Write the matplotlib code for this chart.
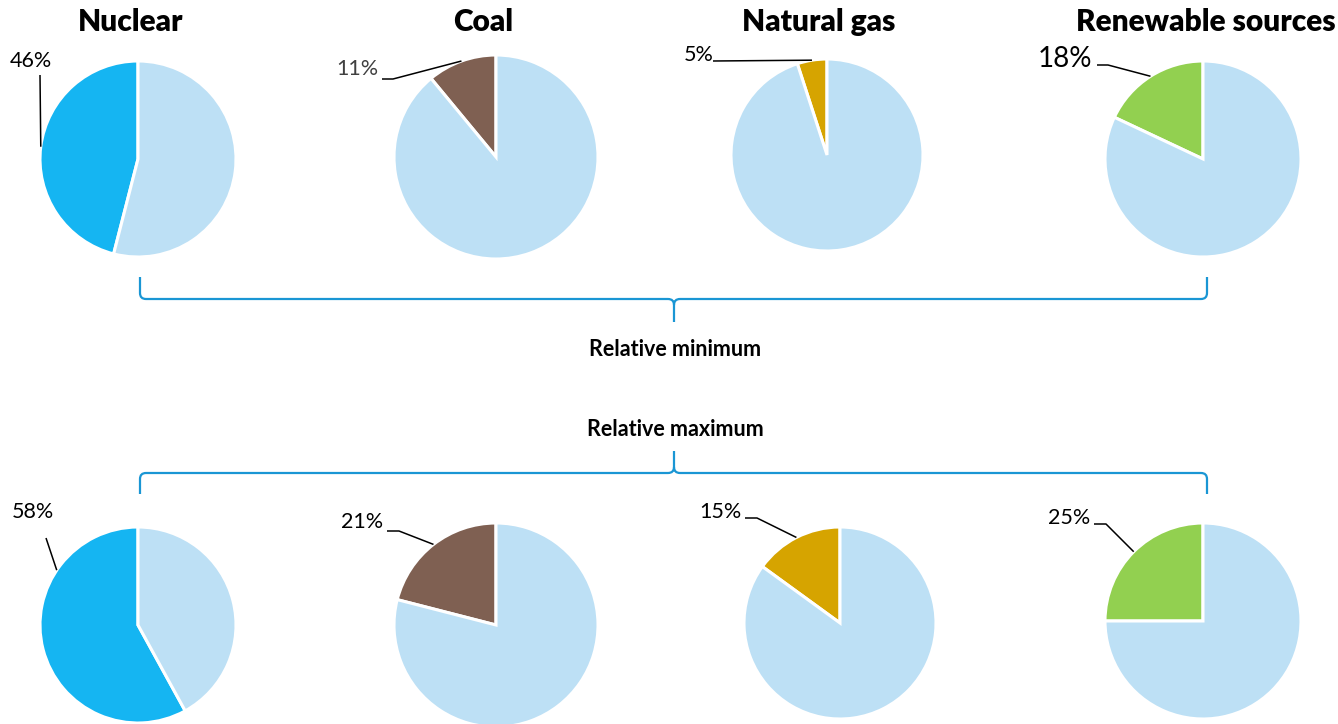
import numpy as np
import matplotlib
matplotlib.use("Agg")
import matplotlib.pyplot as plt
from matplotlib.path import Path
from matplotlib.patches import PathPatch

W, H = 1338, 724

sources = ["Nuclear", "Coal", "Natural gas", "Renewable sources"]
share_min = [46, 11, 5, 18]
share_max = [58, 21, 15, 25]
source_colors = ["#15B5F2", "#7F6052", "#D6A400", "#92D050"]
rest_color = "#BDE0F5"
brace_color = "#1A96D4"

# layout in pixels measured from the top-left corner
pie_x_min = [138, 496, 827, 1203]
pie_y_min = [159, 157, 155, 159]
pie_r_min = [98, 102, 96, 98]
pie_x_max = [138, 496, 840, 1203]
pie_y_max = [625, 625, 623, 621]
pie_r_max = [98, 102, 96, 98]
title_x = [131, 483, 819, 1206]
title_y = 22

# label text position, leader start points, optional anchor angle
labels_min = [
    dict(xy=(31, 61), pts=[(40, 75)], size=15.5, color="#000000"),
    dict(xy=(357, 69), pts=[(382, 79), (393, 79)], size=15.5, color="#404040"),
    dict(xy=(699, 55), pts=[(713, 61)], size=15.5, color="#000000"),
    dict(xy=(1065, 59), pts=[(1097, 65), (1108, 65)], size=20, color="#000000"),
]
labels_max = [
    dict(xy=(33, 512), pts=[(46, 538)], size=15.5, color="#000000", angle=146),
    dict(xy=(362, 522), pts=[(387, 531), (399, 531)], size=15.5, color="#000000"),
    dict(xy=(720, 512), pts=[(745, 518), (757, 518)], size=15.5, color="#000000"),
    dict(xy=(1069, 518), pts=[(1094, 524), (1106, 524)], size=15.5, color="#000000"),
]

plt.rcParams["font.family"] = ["Lato", "DejaVu Sans"]

fig = plt.figure(figsize=(W / 100, H / 100), dpi=100)
ax = fig.add_axes([0, 0, 1, 1])


def draw_row(shares, xs, ys, rs, labels):
    for share, color, cx, cy, r, lab in zip(shares, source_colors, xs, ys, rs, labels):
        ax.pie([share, 100 - share], colors=[color, rest_color], startangle=90,
               counterclock=True, center=(cx, H - cy), radius=r, frame=True,
               wedgeprops=dict(edgecolor="white", linewidth=2.2))
        ang = np.radians(lab.get("angle", 90 + share * 1.8))
        anchor = (cx + r * np.cos(ang), H - cy + r * np.sin(ang))
        line = [(x, H - y) for x, y in lab["pts"]] + [anchor]
        ax.plot([p[0] for p in line], [p[1] for p in line], color="black", lw=1.1,
                solid_capstyle="butt")
        ax.text(lab["xy"][0], H - lab["xy"][1], f"{share}%", ha="center", va="center",
                fontsize=lab["size"], color=lab["color"])


def brace(x0, x1, xc, y_end, y_bar, y_tip):
    # curly brace drawn in pixel coordinates; y values are top-down
    s = np.sign(y_tip - y_bar)
    k = 6
    verts = [
        (x0, y_end), (x0, y_bar - s * k), (x0, y_bar), (x0 + k, y_bar),
        (xc - k, y_bar), (xc, y_bar), (xc, y_bar + s * k), (xc, y_tip),
        (xc, y_bar + s * k), (xc, y_bar), (xc + k, y_bar),
        (x1 - k, y_bar), (x1, y_bar), (x1, y_bar - s * k), (x1, y_end),
    ]
    codes = [Path.MOVETO, Path.LINETO, Path.CURVE3, Path.CURVE3,
             Path.LINETO, Path.CURVE3, Path.CURVE3, Path.LINETO,
             Path.MOVETO, Path.CURVE3, Path.CURVE3,
             Path.LINETO, Path.CURVE3, Path.CURVE3, Path.LINETO]
    verts = [(x, H - y) for x, y in verts]
    ax.add_patch(PathPatch(Path(verts, codes), facecolor="none",
                           edgecolor=brace_color, lw=1.6))


draw_row(share_min, pie_x_min, pie_y_min, pie_r_min, labels_min)
draw_row(share_max, pie_x_max, pie_y_max, pie_r_max, labels_max)

for name, x in zip(sources, title_x):
    ax.text(x, H - title_y, name, ha="center", va="center", fontsize=21.5,
            fontweight="heavy")

brace(140, 1207, 674, 277, 299, 322)
brace(140, 1207, 674, 494, 473, 451)
ax.text(675, H - 350, "Relative minimum", ha="center", va="center",
        fontsize=15.5, fontweight="bold")
ax.text(675, H - 430, "Relative maximum", ha="center", va="center",
        fontsize=15.5, fontweight="bold")

ax.set_xlim(0, W)
ax.set_ylim(0, H)
ax.set_aspect("equal")
ax.axis("off")
fig.savefig("out.png", dpi=100)
